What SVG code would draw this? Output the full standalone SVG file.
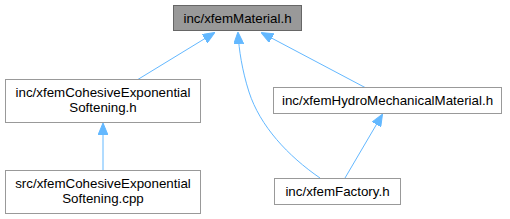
<svg xmlns="http://www.w3.org/2000/svg" width="510" height="219" viewBox="0 0 510 219">
<style>
.n rect{fill:#ffffff;stroke:#999999;stroke-width:1}
.n.cur rect{fill:#999999;stroke:#666666}
.n text{font-family:"Liberation Sans",Arial,sans-serif;font-size:13.33px;fill:#000000;text-anchor:middle}
.e path{fill:none;stroke:#63b8ff;stroke-width:1}
</style>
<defs>
<marker id="ah" viewBox="0 0 12 10" refX="11" refY="5" markerWidth="12" markerHeight="10" markerUnits="userSpaceOnUse" orient="auto">
<path d="M0,0 L12,5 L0,10 Z" fill="#63b8ff" stroke="#63b8ff"/>
</marker>
</defs>
<g id="connectors" class="e">
<path d="M137,80 L214,33" marker-end="url(#ah)"/>
<path d="M366,88 L262,33" marker-end="url(#ah)"/>
<path d="M320,178 C288,156 260,126 249,92 C242,70 239,50 238,33" marker-end="url(#ah)"/>
<path d="M103,170 L103,124" marker-end="url(#ah)"/>
<path d="M345,178 L382,115" marker-end="url(#ah)"/>
</g>
<g id="node-material" class="n cur">
<rect x="173.5" y="5.5" width="128" height="25"/>
<text x="237.5" y="22.5">inc/xfemMaterial.h</text>
</g>
<g id="node-cohesive-h" class="n">
<rect x="5.5" y="79.5" width="195" height="43"/>
<text x="103" y="97">inc/xfemCohesiveExponential</text>
<text x="103" y="112">Softening.h</text>
</g>
<g id="node-cohesive-cpp" class="n">
<rect x="5.5" y="170.5" width="195" height="43"/>
<text x="103" y="188">src/xfemCohesiveExponential</text>
<text x="103" y="203">Softening.cpp</text>
</g>
<g id="node-hydro" class="n">
<rect x="273.5" y="87.5" width="228" height="26"/>
<text x="387.5" y="105">inc/xfemHydroMechanicalMaterial.h</text>
</g>
<g id="node-factory" class="n">
<rect x="274.5" y="178.5" width="126" height="26"/>
<text x="337.5" y="196">inc/xfemFactory.h</text>
</g>
</svg>
